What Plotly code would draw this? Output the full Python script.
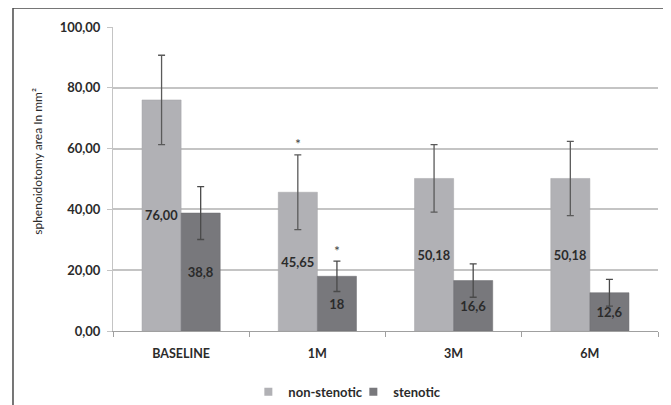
import plotly.graph_objects as go

categories = ["BASELINE", "1M", "3M", "6M"]
non_stenotic = [76.00, 45.65, 50.18, 50.18]
non_stenotic_err = [14.7, 12.3, 11.1, 12.2]
non_stenotic_labels = ["76,00", "45,65", "50,18", "50,18"]
stenotic = [38.8, 18.0, 16.6, 12.6]
stenotic_err = [8.7, 5.0, 5.5, 4.4]
stenotic_labels = ["38,8", "18", "16,6", "12,6"]
significant_cat = "1M"
y_ticks = [0, 20, 40, 60, 80, 100]

FONT = "Lato"
TXT = "#2b2b2b"
C_NON = "#b1b1b5"
C_STEN = "#78787c"

fig = go.Figure()
fig.add_trace(go.Bar(
    name="non-stenotic", x=categories, y=non_stenotic, showlegend=False,
    marker=dict(color=C_NON, line=dict(color="#a4a4a8", width=0.5)),
    error_y=dict(type="data", array=non_stenotic_err, color="#5a5a5a", thickness=1.3, width=3.5),
    text=non_stenotic_labels, textposition="inside", insidetextanchor="middle",
    textfont=dict(family=FONT, size=13, color=TXT, weight="bold"), textangle=0,
))
fig.add_trace(go.Bar(
    name="stenotic", x=categories, y=stenotic, showlegend=False,
    marker=dict(color=C_STEN, line=dict(color="#6c6c70", width=0.5)),
    error_y=dict(type="data", array=stenotic_err, color="#4a4a4a", thickness=1.3, width=3.5),
    text=stenotic_labels, textposition="inside", insidetextanchor="middle",
    textfont=dict(family=FONT, size=13, color=TXT, weight="bold"), textangle=0,
))
# legend entries with small square markers
for name, col in [("non-stenotic", C_NON), ("stenotic", C_STEN)]:
    fig.add_trace(go.Scatter(x=[None], y=[None], mode="markers", name=name,
                             marker=dict(symbol="square", size=8, color=col)))

# significance asterisks above 1M error bars
i = categories.index(significant_cat)
for val, err, shift in [(non_stenotic[i], non_stenotic_err[i], -19.5),
                        (stenotic[i], stenotic_err[i], 19.5)]:
    fig.add_annotation(x=significant_cat, y=val + err, text="*", showarrow=False,
                       xshift=shift, yshift=11, font=dict(family=FONT, size=14, color="#444"))

# y-axis title
fig.add_annotation(xref="paper", yref="paper", x=-0.14, y=0.559, text="sphenoidotomy area In mm²",
                   textangle=-90, showarrow=False, xanchor="center", yanchor="middle",
                   font=dict(family=FONT, size=12, color=TXT))

# outer chart border
fig.add_shape(type="rect", xref="paper", yref="paper", x0=-0.1835, x1=1.021, y0=-0.3, y1=1.0625,
              line=dict(color="#4a4a4a", width=1.5), fillcolor="rgba(0,0,0,0)", layer="below")

# the page body adds an 8px offset; margins compensate so the plot area sits where the reference has it
fig.update_layout(
    width=671, height=405,
    margin=dict(l=105, r=21, t=19, b=82, autoexpand=False),
    paper_bgcolor="white", plot_bgcolor="white",
    barmode="group", bargap=0.426, bargroupgap=0,
    separators=", ",
    font=dict(family=FONT, size=12, color=TXT),
    showlegend=True,
    legend=dict(orientation="h", x=0.441, xanchor="center", y=-0.2, yanchor="middle",
                font=dict(family=FONT, size=13, color=TXT, weight="bold"),
                itemwidth=30, traceorder="normal", entrywidth=60, entrywidthmode="pixels"),
)
fig.update_xaxes(
    showline=True, linecolor="#a0a0a0", linewidth=1, automargin=False,
    ticks="outside", tickson="boundaries", ticklen=5, tickcolor="#a0a0a0", ticklabelstandoff=11,
    tickfont=dict(family=FONT, size=12.5, color=TXT, weight="bold"),
    showgrid=False,
)
fig.update_yaxes(
    range=[0, 100], tickvals=y_ticks, tickformat=".2f", automargin=False,
    showgrid=True, gridcolor="#c4c4c4", gridwidth=1.5,
    showline=True, linecolor="#c4c4c4", linewidth=1,
    ticks="outside", ticklen=5, tickcolor="#c4c4c4", ticklabelstandoff=4,
    tickfont=dict(family=FONT, size=13, color=TXT, weight="bold"),
    zeroline=False,
)

fig.write_html("out.html")
